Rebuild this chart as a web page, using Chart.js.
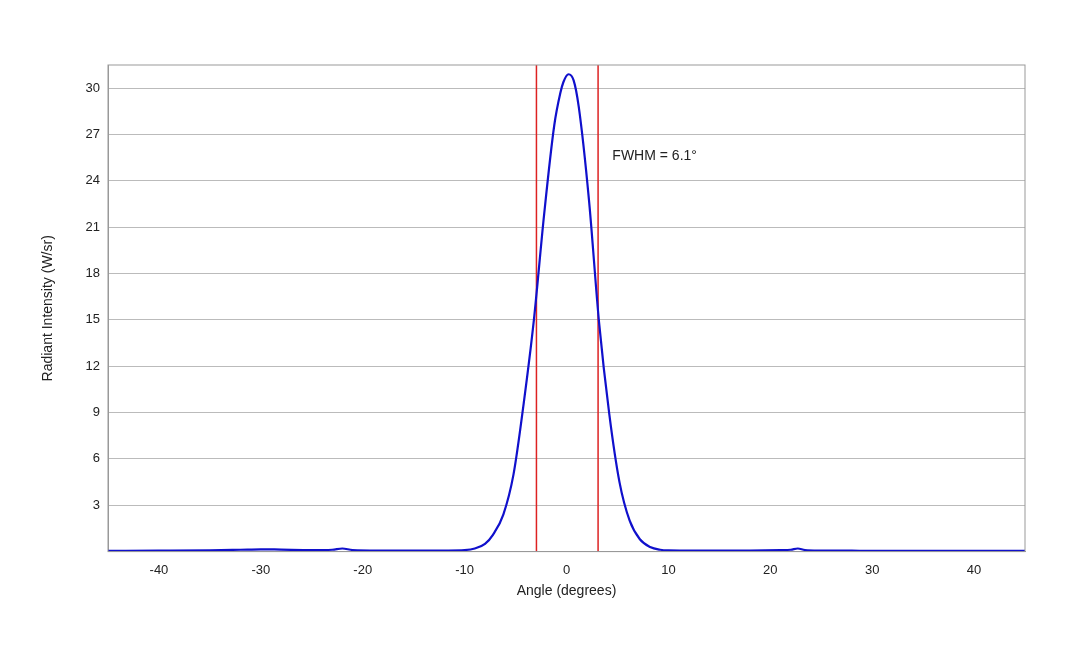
<!DOCTYPE html>
<html><head><meta charset="utf-8">
<script src="https://cdn.jsdelivr.net/npm/chart.js@4"></script>
<style>html,body{margin:0;padding:0;background:#fff}#w{width:1080px;height:648px}</style>
</head><body><div id="w"><canvas id="c"></canvas></div>
<script>
const angles = [-45,-40,-35,-32,-30,-28,-25,-23,-22,-21,-18,-15,-12,-10,-9,-8,-7.2,-6.2,-5.2,-4.2,-3.2,-2.2,-1.2,-0.6,-0.3,0.2,0.7,1.2,2.2,3.2,4.2,5.2,6.2,7.2,8.2,9.2,10,12,15,18,21,22,22.7,23.4,25,28,30,35,40,45];
const intensity = [0.05,0.06,0.08,0.12,0.15,0.13,0.1,0.12,0.2,0.1,0.07,0.06,0.07,0.1,0.2,0.5,1.1,2.4,5.0,9.6,15.0,21.8,27.6,29.7,30.4,30.9,30.5,28.8,22.8,14.8,8.9,4.5,2.0,0.8,0.3,0.12,0.08,0.07,0.06,0.07,0.1,0.12,0.2,0.1,0.07,0.06,0.05,0.05,0.05,0.05];
const fwhmLeft = -2.95, fwhmRight = 3.1;
const yTicks = [3,6,9,12,15,18,21,24,27,30];
const xTicks = [-40,-30,-20,-10,0,10,20,30,40];
const labelPlugin = {id:'lbl',afterDraw(ch){const c=ch.ctx,x=ch.scales.x,y=ch.scales.y;c.save();c.font='14px "Liberation Sans", Arial';c.fillStyle='#222';c.textBaseline='middle';c.fillText('FWHM = 6.1°',x.getPixelForValue(4.5),y.getPixelForValue(25.6));c.restore();}};
new Chart(document.getElementById('c'),{
type:'line',
data:{datasets:[
 {data:angles.map((a,i)=>({x:a,y:intensity[i]})),borderColor:'#1010cc',borderWidth:2.2,pointRadius:0,cubicInterpolationMode:'monotone'},
 {data:[{x:fwhmLeft,y:0},{x:fwhmLeft,y:31.5}],borderColor:'#dd2222',borderWidth:1.5,pointRadius:0},
 {data:[{x:fwhmRight,y:0},{x:fwhmRight,y:31.5}],borderColor:'#dd2222',borderWidth:1.5,pointRadius:0}
]},
options:{responsive:true,maintainAspectRatio:false,animation:false,
 layout:{padding:{left:36,right:55,top:65,bottom:44}},
 plugins:{legend:{display:false},tooltip:{enabled:false}},
 scales:{
  x:{type:'linear',min:-45,max:45,afterBuildTicks:s=>{s.ticks=xTicks.map(v=>({value:v}))},
     grid:{display:false,drawTicks:true},border:{color:'#999'},
     ticks:{color:'#222',font:{size:13,family:'"Liberation Sans", Arial'}},
     title:{display:true,text:'Angle (degrees)',color:'#222',font:{size:14,family:'"Liberation Sans", Arial'},padding:{top:2}}},
  y:{min:0,max:31.5,afterBuildTicks:s=>{s.ticks=yTicks.map(v=>({value:v}))},
     afterFit:s=>{s.width=72},
     grid:{color:'#bbb',drawTicks:false},border:{color:'#999'},
     ticks:{color:'#222',padding:8,font:{size:13,family:'"Liberation Sans", Arial'}},
     title:{display:true,text:'Radiant Intensity (W/sr)',color:'#222',font:{size:14,family:'"Liberation Sans", Arial'}}}
 }},
plugins:[labelPlugin,{id:'box',afterDraw(ch){const a=ch.chartArea,c=ch.ctx;c.save();c.strokeStyle='#999';c.lineWidth=1;c.strokeRect(a.left,a.top,a.right-a.left,a.bottom-a.top);c.restore();}}]
});
</script></body></html>
